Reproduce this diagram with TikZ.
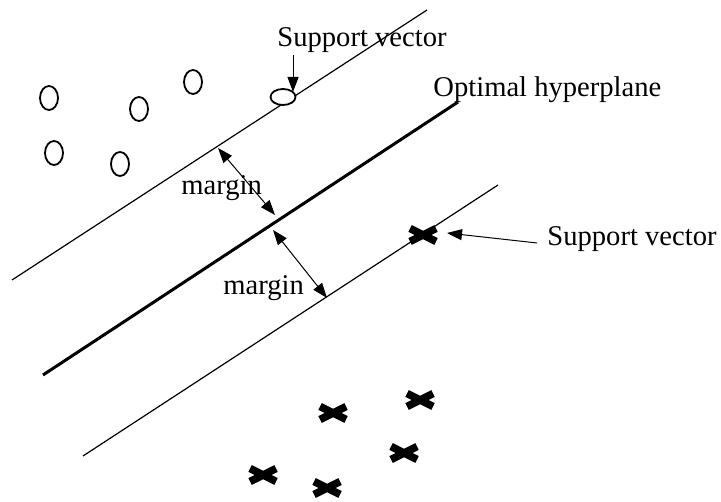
\documentclass[tikz,border=0pt]{standalone}
\usepackage{fontspec}
\setmainfont{Liberation Serif}
\usetikzlibrary{arrows.meta,shapes.geometric}
\tikzset{
  edge/.style={line width=0.6pt},
  hyper/.style={line width=1.5pt},
  ar/.style={-{Triangle[length=7.5pt,width=5.5pt]},line width=0.5pt},
  dar/.style={{Triangle[length=7.5pt,width=5.5pt]}-{Triangle[length=7.5pt,width=5.5pt]},line width=0.5pt},
  lbl/.style={font=\fontsize{14.3}{17}\selectfont,inner sep=0pt,anchor=base west},
  ring/.style={line width=0.9pt},
  xmark/.style={line width=3.8pt}
}

\begin{document}
\begin{tikzpicture}[x=0.5pt,y=0.5pt]
\useasboundingbox (0,0) rectangle (721,502);
% the three parallel lines
\coordinate (ua) at (12,222);  \coordinate (ub) at (427,492);
\coordinate (ha) at (43,127);  \coordinate (hb) at (458,400);
\coordinate (la) at (83,46);   \coordinate (lb) at (498,317);
\draw[edge] (ua) -- (ub);
\draw[hyper] (ha) -- (hb);
\draw[edge] (la) -- (lb);
% class one
\foreach \p in {(49,404),(139,393),(193,420),(54,349),(120,338)}
  \draw[ring] \p ellipse (9 and 12);
\node[draw,ellipse,ring,fill=white,minimum width=12.5pt,minimum height=8pt,inner sep=0pt] (svo) at (283,405) {};
% class two
\foreach \p in {(333,89),(420,102),(404,49),(263,27),(327,14)}
  \draw[xmark] \p +(-13,-6.5) -- +(13,6.5) +(-13,6.5) -- +(13,-6.5);
\coordinate (svx) at (423,267);
\draw[xmark] (svx) +(-13,-6.5) -- +(13,6.5) +(-13,6.5) -- +(13,-6.5);
% margins
\coordinate (m1a) at (218,354); \coordinate (m1b) at (275,287);
\coordinate (m2a) at (273,272); \coordinate (m2b) at (327,204);
\draw[dar] (m1a) -- (m1b);
\draw[dar] (m2a) -- (m2b);
\node[lbl] (mg1) at (181,307) {margin};
\node[lbl] (mg2) at (223,207) {margin};
% labels
\node[lbl] (sv1) at (277,455) {Support vector};
\node[lbl] (opt) at (433,405) {Optimal hyperplane};
\node[lbl] (sv2) at (547,256) {Support vector};
\coordinate (t1) at (293,447); \coordinate (h1) at (293,410);
\draw[ar] (t1) -- (h1);
\coordinate (t2) at (537,259); \coordinate (h2) at (447,269);
\draw[ar] (t2) -- (h2);
\end{tikzpicture}
\end{document}
